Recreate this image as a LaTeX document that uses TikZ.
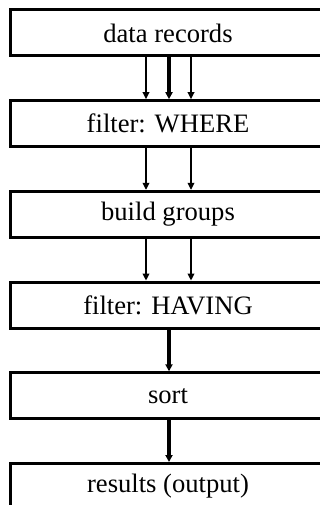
\documentclass[tikz,border=0pt]{standalone}
\usepackage{fontspec}
\setmainfont{Liberation Serif}
\usetikzlibrary{arrows.meta}
\begin{document}
\begin{tikzpicture}[x=1pt,y=-1pt,
  stagebox/.style={draw, line width=2.9pt, minimum width=315pt, minimum height=46pt,
    inner sep=0pt, font=\fontsize{26.6}{32}\selectfont, anchor=north},
  flow/.style={line width=2.7pt, -{Triangle[length=7pt,width=6.5pt]}},
  flowthick/.style={line width=3.3pt, -{Triangle[length=7pt,width=7pt]}}]
\useasboundingbox (0,0) rectangle (320,505);
\clip (0,0) rectangle (320,505);
\node[stagebox] (n1) at (168,8.5) {data records};
\node[stagebox] (n2) at (168,99.2) {filter: WHERE};
\node[stagebox] (n3) at (168,189.9) {build groups};
\node[stagebox] (n4) at (168,280.6) {filter: HAVING};
\node[stagebox] (n5) at (168,371.3) {sort};
\node[stagebox] (n6) at (168,462) {results (output)};
% data records -> WHERE
\draw[flow] ([xshift=-22pt]n1.south) -- ([xshift=-22pt]n2.north);
\draw[flowthick] ([xshift=1pt]n1.south) -- ([xshift=1pt]n2.north);
\draw[flow] ([xshift=23pt]n1.south) -- ([xshift=23pt]n2.north);
% WHERE -> groups
\draw[flow] ([xshift=-22pt]n2.south) -- ([xshift=-22pt]n3.north);
\draw[flow] ([xshift=23pt]n2.south) -- ([xshift=23pt]n3.north);
% groups -> HAVING
\draw[flow] ([xshift=-22pt]n3.south) -- ([xshift=-22pt]n4.north);
\draw[flow] ([xshift=23pt]n3.south) -- ([xshift=23pt]n4.north);
% HAVING -> sort -> results
\draw[flowthick] ([xshift=1pt]n4.south) -- ([xshift=1pt]n5.north);
\draw[flowthick] ([xshift=1pt]n5.south) -- ([xshift=1pt]n6.north);
\end{tikzpicture}
\end{document}
